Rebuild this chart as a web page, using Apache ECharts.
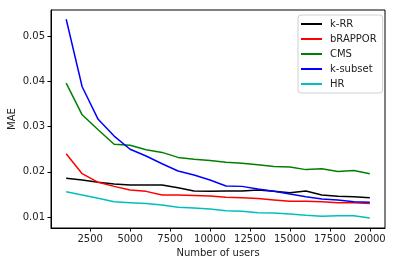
<!DOCTYPE html>
<html>
<head>
<meta charset="utf-8">
<script src="https://cdn.jsdelivr.net/npm/echarts@6/dist/echarts.min.js"></script>
<style>
html,body{margin:0;padding:0;background:#fff;}
#c{width:395px;height:266px;}
</style>
</head>
<body>
<div id="c"></div>
<script>
var users = [1000,2000,3000,4000,5000,6000,7000,8000,9000,10000,11000,12000,13000,14000,15000,16000,17000,18000,19000,20000];
var kRR     = [0.0186,0.0182,0.0177,0.0173,0.0171,0.0171,0.0171,0.0165,0.0158,0.0157,0.0158,0.0158,0.0160,0.0157,0.0154,0.0158,0.0149,0.0146,0.0145,0.0143];
var bRAPPOR = [0.0240,0.0196,0.0177,0.0168,0.0160,0.0157,0.0149,0.0149,0.0148,0.0147,0.0144,0.0143,0.0141,0.0138,0.0135,0.0135,0.0134,0.0132,0.0132,0.0130];
var CMS     = [0.0396,0.0326,0.0293,0.0261,0.0259,0.0249,0.0243,0.0232,0.0228,0.0225,0.0221,0.0219,0.0216,0.0212,0.0211,0.0205,0.0207,0.0201,0.0203,0.0196];
var kSubset = [0.0537,0.0388,0.0316,0.0279,0.0250,0.0235,0.0218,0.0202,0.0193,0.0182,0.0169,0.0168,0.0162,0.0157,0.0151,0.0145,0.0140,0.0138,0.0134,0.0133];
var HR      = [0.0156,0.0149,0.0142,0.0134,0.0132,0.0130,0.0127,0.0122,0.0120,0.0118,0.0114,0.0113,0.0110,0.0109,0.0107,0.0104,0.0102,0.0103,0.0103,0.0098];
var xTicks = [2500,5000,7500,10000,12500,15000,17500,20000];
var yTicks = [0.01,0.02,0.03,0.04,0.05];
var seriesNames = ['k-RR','bRAPPOR','CMS','k-subset','HR'];
var seriesData = [kRR,bRAPPOR,CMS,kSubset,HR];
var colors = ['#000000','#ff0000','#008000','#0000ff','#00bfbf'];

function pairs(arr){ return users.map(function(u,i){ return [u, arr[i]]; }); }

var font = 'DejaVu Sans';
var chart = echarts.init(document.getElementById('c'), null, {renderer:'canvas'});
chart.setOption({
  animation:false,
  backgroundColor:'#ffffff',
  color: colors,
  textStyle:{fontFamily:font},
  grid:{left:51, top:10, width:334, height:218, show:true, borderColor:'#000', borderWidth:1,
        backgroundColor:'transparent', containLabel:false, outerBoundsMode:'none'},
  legend:{
    orient:'vertical', left:298, top:15,
    padding:[3,6,3,3],
    backgroundColor:'#fff', borderColor:'#d0d0d0', borderWidth:1, borderRadius:3,
    itemWidth:21, itemHeight:2, itemGap:3, icon:'rect',
    textStyle:{fontFamily:font, fontSize:10, color:'#222', lineHeight:12, padding:[0,0,0,3]},
    data: seriesNames
  },
  xAxis:{
    type:'value', min:50, max:20950,
    name:'Number of users', nameLocation:'middle', nameGap:20, nameMoveOverlap:false,
    nameTextStyle:{fontFamily:font, fontSize:10, color:'#222'},
    axisLine:{show:true, onZero:false, lineStyle:{color:'#000', width:1}},
    axisTick:{show:true, length:3.5, customValues:xTicks, lineStyle:{color:'#000'}},
    axisLabel:{customValues:xTicks, margin:6, fontFamily:font, fontSize:10, color:'#222',
      formatter:function(v){ return String(Math.round(v)); }},
    splitLine:{show:false}
  },
  yAxis:{
    type:'value', min:0.00761, max:0.05574,
    name:'MAE', nameLocation:'middle', nameGap:34, nameRotate:90, nameMoveOverlap:false,
    nameTextStyle:{fontFamily:font, fontSize:10, color:'#222'},
    axisLine:{show:true, onZero:false, lineStyle:{color:'#000', width:1}},
    axisTick:{show:true, length:3.5, customValues:yTicks, lineStyle:{color:'#000'}},
    axisLabel:{customValues:yTicks, margin:6, fontFamily:font, fontSize:10, color:'#222',
      formatter:function(v){ return v.toFixed(2); }},
    splitLine:{show:false}
  },
  series: seriesNames.map(function(n,i){
    return {name:n, type:'line', data:pairs(seriesData[i]), showSymbol:false, symbol:'none',
      lineStyle:{width:1.5, color:colors[i]}, itemStyle:{color:colors[i]}};
  })
});
</script>
</body>
</html>
